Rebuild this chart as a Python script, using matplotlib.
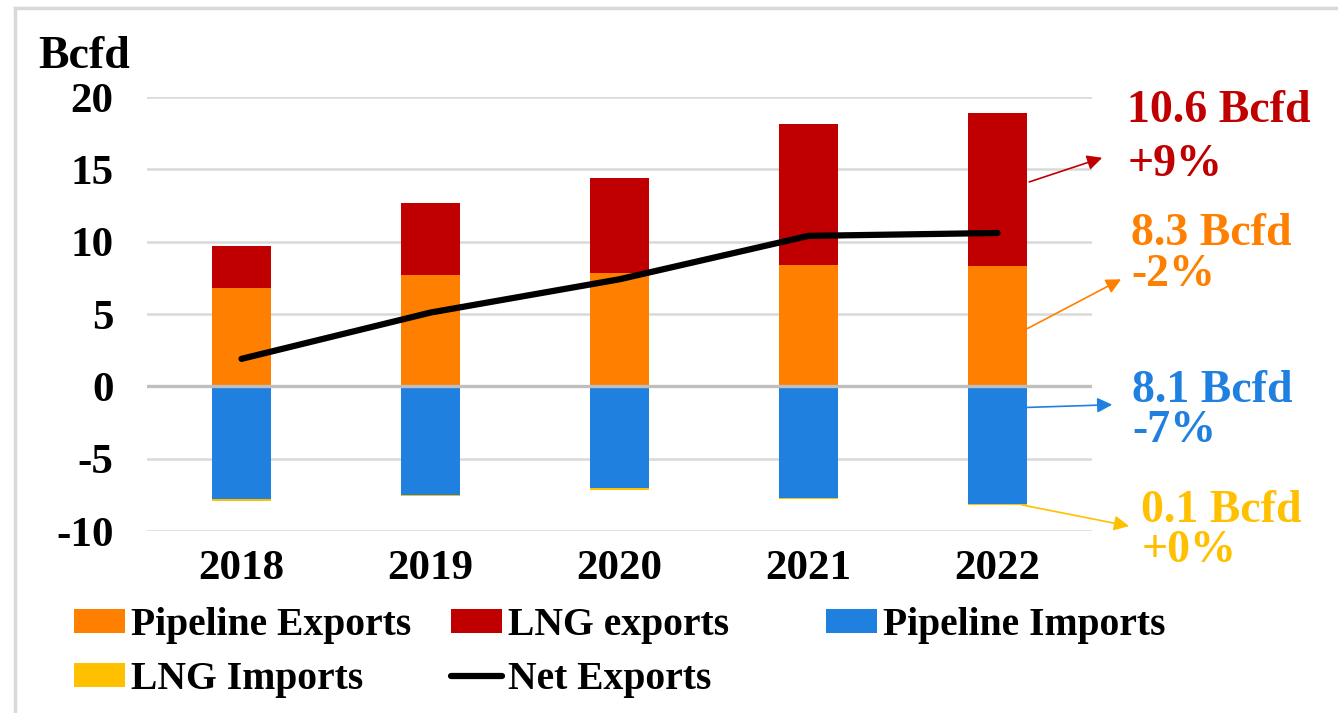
import matplotlib
matplotlib.use("Agg")
import matplotlib.pyplot as plt
from matplotlib.lines import Line2D
import numpy as np

# ---- data (Bcfd) ----
years = ["2018", "2019", "2020", "2021", "2022"]
pipeline_exports = [6.8, 7.7, 7.8, 8.4, 8.3]
lng_exports = [2.9, 5.0, 6.6, 9.7, 10.6]
pipeline_imports = [-7.8, -7.5, -7.0, -7.7, -8.1]
lng_imports = [-0.15, -0.08, -0.14, -0.08, -0.1]
net_exports = [1.9, 5.1, 7.4, 10.4, 10.6]

y_ticks = [-10, -5, 0, 5, 10, 15, 20]

# 2022 call-outs: (label, change, colour)
callouts = [
    ("10.6 Bcfd", "+9%", "#C00000"),
    ("8.3 Bcfd", "-2%", "#FF8000"),
    ("8.1 Bcfd", "-7%", "#2080E0"),
    ("0.1 Bcfd", "+0%", "#FFC000"),
]

C_PIPE_EXP = "#FF7F00"
C_LNG_EXP = "#C00000"
C_PIPE_IMP = "#1F80E0"
C_LNG_IMP = "#FFC000"

FONT = "Liberation Serif"
plt.rcParams["font.family"] = [FONT, "DejaVu Serif"]
plt.rcParams["font.weight"] = "bold"

W, H = 1338, 713
fig = plt.figure(figsize=(W / 100, H / 100), dpi=100)
fig.patch.set_facecolor("white")


def fx(px):
    return px / W


def fy(py):
    return (H - py) / H


ax = fig.add_axes([fx(147), fy(531), fx(1092) - fx(147), fy(97) - fy(531)])

x = np.arange(len(years))
bw = 0.31

pe = ax.bar(x, pipeline_exports, bw, color=C_PIPE_EXP, zorder=2, label="Pipeline Exports")
le = ax.bar(x, lng_exports, bw, bottom=pipeline_exports, color=C_LNG_EXP, zorder=2,
            label="LNG exports")
pi = ax.bar(x, pipeline_imports, bw, color=C_PIPE_IMP, zorder=2, label="Pipeline Imports")
li = ax.bar(x, lng_imports, bw, bottom=pipeline_imports, color=C_LNG_IMP, zorder=2,
            label="LNG Imports")
ax.axhline(0, color="#BFBFBF", lw=2.4, zorder=3)
ne, = ax.plot(x, net_exports, color="black", lw=4.5, solid_capstyle="round",
              solid_joinstyle="round", zorder=4, label="Net Exports")

ax.set_xlim(-0.5, len(years) - 0.5)
ax.set_ylim(-10, 20)
ax.set_yticks(y_ticks)
ax.set_yticklabels([str(v) for v in y_ticks])
ax.set_xticks(x)
ax.set_xticklabels(years)
ax.yaxis.grid(True, color="#D9D9D9", lw=1.8, zorder=0)
ax.set_axisbelow(True)
for s in ax.spines.values():
    s.set_visible(False)
ax.tick_params(axis="y", length=0, pad=24, labelsize=31)
ax.tick_params(axis="x", length=0, pad=14, labelsize=31)
for lab in ax.get_xticklabels() + ax.get_yticklabels():
    lab.set_fontweight("bold")

fig.text(fx(38), fy(68), "Bcfd", fontsize=33, fontweight="bold", va="baseline", ha="left")

# call-out arrows from the 2022 bar to the labels
last = len(years) - 1
tails = [
    (last + 0.168, pipeline_exports[last] + lng_exports[last] * 0.55),
    (last + 0.157, pipeline_exports[last] * 0.48),
    (last + 0.157, pipeline_imports[last] * 0.18),
    (last + 0.13, pipeline_imports[last] + lng_imports[last]),
]
heads = [(4.554, 15.8), (4.654, 7.4), (4.607, -1.27), (4.696, -9.66)]
label_pos = [(4.686, 18.29, 14.55), (4.707, 9.76, 6.91), (4.713, -1.06, -3.83),
             (4.760, -9.38, -12.16)]
for (txt, chg, col), tail, head, (lx, y1, y2) in zip(callouts, tails, heads, label_pos):
    ax.annotate("", xy=head, xytext=tail, xycoords="data", textcoords="data",
                annotation_clip=False,
                arrowprops=dict(arrowstyle="-|>,head_length=0.9,head_width=0.45",
                                color=col, lw=1.2, shrinkA=0, shrinkB=0))
    ax.text(lx, y1, txt, color=col, fontsize=33, fontweight="bold",
            va="baseline", ha="left", clip_on=False)
    ax.text(lx, y2, chg, color=col, fontsize=33, fontweight="bold",
            va="baseline", ha="left", clip_on=False)

# legend: three evenly spaced columns
leg_kw = dict(frameon=False, fontsize=28.5, handlelength=1.3, handleheight=0.56,
              handletextpad=0.15, labelspacing=0.42, borderpad=0, borderaxespad=0,
              loc="upper left")
col_groups = [([pe, li], ["Pipeline Exports", "LNG Imports"]),
              ([le, ne], ["LNG exports", "Net Exports"]),
              ([pi], ["Pipeline Imports"])]
for (hs, ls), px in zip(col_groups, [74, 451, 826]):
    lg = fig.legend(hs, ls, bbox_to_anchor=(fx(px), fy(607)), **leg_kw)
    for t in lg.get_texts():
        t.set_fontweight("bold")

# thin frame on the left and top edges
fig.add_artist(Line2D([fx(14.5), fx(14.5)], [0, fy(7.5)], color="#D9D9D9", lw=2.5))
fig.add_artist(Line2D([fx(14.5), 1], [fy(7.5), fy(7.5)], color="#D9D9D9", lw=2.5))

fig.savefig("out.png", dpi=100)
